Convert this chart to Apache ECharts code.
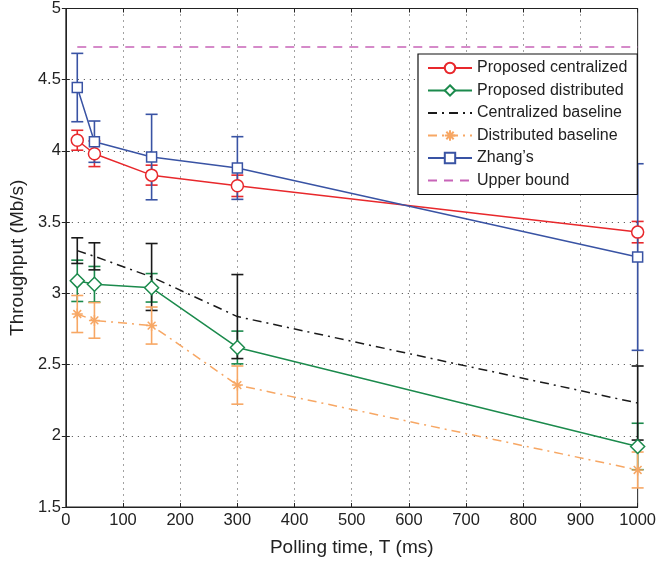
<!DOCTYPE html>
<html><head><meta charset="utf-8">
<script src="https://cdn.jsdelivr.net/npm/echarts@6/dist/echarts.min.js"></script>
<style>html,body{margin:0;padding:0;background:#fff}#c{width:659px;height:562px}</style>
</head><body><div id="c"></div>
<script>
const pollingTimes = [20, 50, 150, 300, 1000];
const seriesNames = ['Proposed centralized','Proposed distributed','Centralized baseline','Distributed baseline',"Zhang\u2019s",'Upper bound'];
const propCentral = [4.075, 3.98, 3.83, 3.755, 3.43];
const propCentralErr = [0.07, 0.09, 0.07, 0.075, 0.075];
const propDistrib = [3.088, 3.064, 3.039, 2.62, 1.925];
const propDistribErr = [0.145, 0.125, 0.1, 0.115, 0.163];
const centBase = [3.30, 3.26, 3.115, 2.837, 2.23];
const centBaseErr = [0.09, 0.095, 0.235, 0.295, 0.26];
const distBase = [2.855, 2.81, 2.774, 2.356, 1.76];
const distBaseErr = [0.13, 0.125, 0.13, 0.134, 0.126];
const zhang = [4.445, 4.065, 3.957, 3.88, 3.255];
const zhangErr = [0.24, 0.145, 0.3, 0.22, 0.655];
const upperBound = [4.73, 4.73, 4.73, 4.73, 4.73];
const xTicks = [0,100,200,300,400,500,600,700,800,900,1000];
const yTicks = [1.5,2,2.5,3,3.5,4,4.5,5];

const cRed='#e8282c', cGreen='#1b8a4c', cBlack='#1a1a1a', cOrange='#f7a764', cBlue='#3953a4', cMag='#c864b8';
const FONT='Liberation Sans';
const star='path://M0,-10L0,10M-10,0L10,0M-7.07,-7.07L7.07,7.07M-7.07,7.07L7.07,-7.07';

function pts(v){return pollingTimes.map((x,i)=>[x,v[i]]);}
function errData(v,e){return pollingTimes.map((x,i)=>[x,v[i]-e[i],v[i]+e[i]]);}
function errSeries(v,e,color){
  return {type:'custom', silent:true, z:1, data:errData(v,e), encode:{x:0,y:[1,2]},
    renderItem:function(params,api){
      const lo=api.coord([api.value(0),api.value(1)]);
      const hi=api.coord([api.value(0),api.value(2)]);
      const w=6;
      const st={stroke:color,lineWidth:1.6};
      return {type:'group',children:[
        {type:'line',shape:{x1:lo[0],y1:lo[1],x2:hi[0],y2:hi[1]},style:st},
        {type:'line',shape:{x1:lo[0]-w,y1:lo[1],x2:lo[0]+w,y2:lo[1]},style:st},
        {type:'line',shape:{x1:hi[0]-w,y1:hi[1],x2:hi[0]+w,y2:hi[1]},style:st}
      ]};
    }};
}
function lineSeries(name,v,color,symbol,size,type){
  return {name:name,type:'line',data:pts(v),symbol:symbol,symbolSize:size,showSymbol:symbol!=='none',z:3,
    lineStyle:{color:color,width:1.5,type:type},
    itemStyle:{color:'#fff',borderColor:color,borderWidth:1.5},
    emphasis:{disabled:true},animation:false};
}
const chart=echarts.init(document.getElementById('c'));
const axisTxt={color:'#222',fontFamily:FONT,fontSize:16.5};
const clear='rgba(0,0,0,0)';
const legendData=seriesNames.map((n,i)=>(i===2||i===5)?{name:n,itemStyle:{color:clear,borderColor:clear,borderWidth:0}}:{name:n});
chart.setOption({
  animation:false,
  backgroundColor:'#fff',
  grid:{left:65,right:16,top:8,bottom:52,show:true,borderColor:'#222',borderWidth:1},
  legend:{data:legendData,orient:'vertical',left:418,top:54,itemWidth:44,itemHeight:13,itemGap:6.5,
    padding:[6,10,6,9],borderColor:'#111',borderWidth:1.2,backgroundColor:'#fff',
    textStyle:{color:'#222',fontFamily:FONT,fontSize:16},selectedMode:false},
  xAxis:[{type:'value',min:0,max:1000,interval:100,
    name:'Polling time, T (ms)',nameLocation:'middle',nameGap:31,nameTextStyle:{color:'#222',fontFamily:FONT,fontSize:19},
    axisLine:{lineStyle:{color:'#222'}},axisTick:{inside:true,length:4,lineStyle:{color:'#222'}},
    axisLabel:Object.assign({margin:5,formatter:v=>String(v)},axisTxt),
    splitLine:{show:true,lineStyle:{color:'#444',type:[1,5],width:1}}},
    {type:'value',position:'top',min:0,max:1000,interval:100,axisLine:{show:true,lineStyle:{color:'#222'}},axisTick:{inside:true,length:4,lineStyle:{color:'#222'}},axisLabel:{show:false},splitLine:{show:false}}],
  yAxis:[{type:'value',min:1.5,max:5,interval:0.5,
    name:'Throughput (Mb/s)',nameLocation:'middle',nameGap:38,nameTextStyle:{color:'#222',fontFamily:FONT,fontSize:19},
    axisLine:{show:true,lineStyle:{color:'#222'}},axisTick:{show:true,inside:true,length:4,lineStyle:{color:'#222'}},
    axisLabel:Object.assign({margin:5,formatter:v=>String(v)},axisTxt),
    splitLine:{show:true,lineStyle:{color:'#444',type:[1,5],width:1}}},
    {type:'value',position:'right',min:1.5,max:5,interval:0.5,axisLine:{show:true,lineStyle:{color:'#222'}},axisTick:{show:true,inside:true,length:4,lineStyle:{color:'#222'}},axisLabel:{show:false},splitLine:{show:false}}],
  series:[
    errSeries(propCentral,propCentralErr,cRed),
    errSeries(propDistrib,propDistribErr,cGreen),
    errSeries(centBase,centBaseErr,cBlack),
    errSeries(distBase,distBaseErr,cOrange),
    errSeries(zhang,zhangErr,cBlue),
    lineSeries(seriesNames[0],propCentral,cRed,'circle',12,'solid'),
    lineSeries(seriesNames[1],propDistrib,cGreen,'diamond',14,'solid'),
    lineSeries(seriesNames[2],centBase,cBlack,'none',0,[9,5,2,5]),
    lineSeries(seriesNames[3],distBase,cOrange,star,11,[9,5,2,5]),
    lineSeries(seriesNames[4],zhang,cBlue,'rect',10,'solid'),
    lineSeries(seriesNames[5],upperBound,cMag,'none',0,[9,7])
  ]
});
</script></body></html>
